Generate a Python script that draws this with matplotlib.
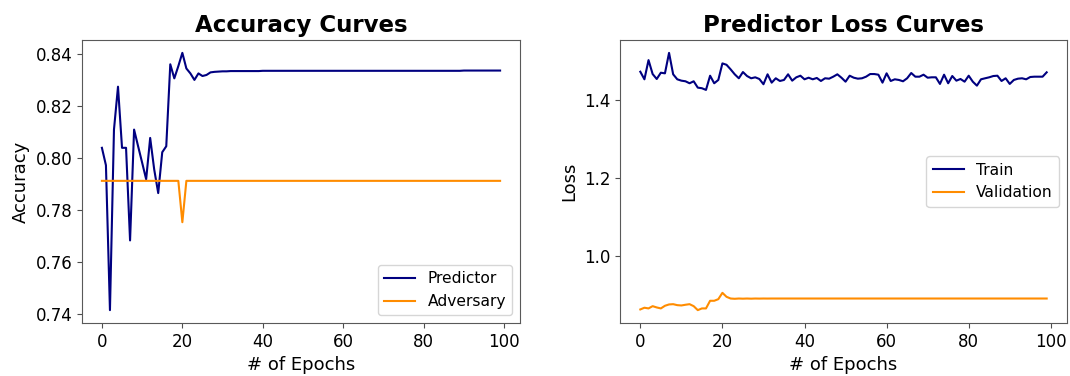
import matplotlib
matplotlib.use("Agg")
import matplotlib.pyplot as plt
import numpy as np

epochs = list(range(100))

predictor_acc = [0.8040, 0.7973, 0.7416, 0.8110, 0.8275, 0.8040, 0.8040, 0.7684, 0.8110, 0.8046,
                 0.7983, 0.7919, 0.8078, 0.7957, 0.7866, 0.8023, 0.8046, 0.8361, 0.8307, 0.8354,
                 0.8405, 0.8345, 0.8326, 0.8301, 0.8326, 0.8316, 0.8320, 0.8330, 0.8332, 0.8333] + \
                [0.8334, 0.8334, 0.8335, 0.8335, 0.8335, 0.8335, 0.8335, 0.8335, 0.8335, 0.8335,
                 0.8336, 0.8336, 0.8336, 0.8336, 0.8336, 0.8336, 0.8336, 0.8336, 0.8336, 0.8336,
                 0.8336, 0.8336, 0.8336, 0.8336, 0.8336, 0.8336, 0.8336, 0.8336, 0.8336, 0.8336,
                 0.8336, 0.8336, 0.8336, 0.8336, 0.8336, 0.8336, 0.8336, 0.8336, 0.8336, 0.8336,
                 0.8336, 0.8336, 0.8336, 0.8336, 0.8336, 0.8336, 0.8336, 0.8336, 0.8336, 0.8336,
                 0.8336, 0.8336, 0.8336, 0.8336, 0.8336, 0.8336, 0.8336, 0.8336, 0.8336, 0.8336,
                 0.8337, 0.8337, 0.8337, 0.8337, 0.8337, 0.8337, 0.8337, 0.8337, 0.8337, 0.8337]

adversary_acc = [0.7913] * 20 + [0.7754] + [0.7913] * 79

train_loss = [1.4721, 1.4527, 1.5019, 1.4662, 1.4535, 1.4696, 1.4680, 1.5205, 1.4655, 1.4527,
              1.4492, 1.4476, 1.4425, 1.4476, 1.4313, 1.4298, 1.4255, 1.4619, 1.4425, 1.4510,
              1.4935, 1.4899, 1.4782, 1.4655, 1.4553, 1.4713, 1.4611, 1.4553, 1.4578, 1.4535,
              1.4400, 1.4655, 1.4441, 1.4553, 1.4484, 1.4510, 1.4655, 1.4492, 1.4578, 1.4619,
              1.4527, 1.4568, 1.4527, 1.4561, 1.4484, 1.4553, 1.4543, 1.4594, 1.4655, 1.4568,
              1.4466, 1.4619, 1.4568, 1.4543, 1.4553, 1.4594, 1.4662, 1.4662, 1.4645, 1.4441,
              1.4680, 1.4484, 1.4527, 1.4510, 1.4476, 1.4553, 1.4688, 1.4594, 1.4594, 1.4645,
              1.4568, 1.4578, 1.4578, 1.4408, 1.4645, 1.4425, 1.4611, 1.4492, 1.4535, 1.4466,
              1.4619, 1.4466, 1.4364, 1.4527, 1.4553, 1.4578, 1.4611, 1.4619, 1.4484, 1.4553,
              1.4408, 1.4510, 1.4543, 1.4553, 1.4527, 1.4586, 1.4594, 1.4594, 1.4594, 1.4706]

val_loss = [0.8624, 0.8668, 0.8650, 0.8708, 0.8675, 0.8650, 0.8718, 0.8752, 0.8759, 0.8734,
            0.8726, 0.8744, 0.8759, 0.8708, 0.8606, 0.8650, 0.8650, 0.8846, 0.8846, 0.8887,
            0.9050, 0.8948, 0.8904, 0.8897, 0.8904, 0.8900, 0.8904, 0.8900, 0.8904, 0.8902,
            0.8904, 0.8903, 0.8904, 0.8904, 0.8904, 0.8904, 0.8904, 0.8904, 0.8904, 0.8904,
            0.8904, 0.8904, 0.8904, 0.8904, 0.8904, 0.8904, 0.8904, 0.8904, 0.8904, 0.8904,
            0.8904, 0.8904, 0.8904, 0.8904, 0.8904, 0.8904, 0.8904, 0.8904, 0.8904, 0.8904,
            0.8904, 0.8904, 0.8904, 0.8904, 0.8904, 0.8904, 0.8904, 0.8904, 0.8904, 0.8904,
            0.8904, 0.8904, 0.8904, 0.8904, 0.8904, 0.8904, 0.8904, 0.8904, 0.8904, 0.8904,
            0.8904, 0.8904, 0.8904, 0.8904, 0.8904, 0.8904, 0.8904, 0.8904, 0.8904, 0.8904,
            0.8904, 0.8904, 0.8904, 0.8904, 0.8904, 0.8904, 0.8904, 0.8904, 0.8904, 0.8904]

left_yticks = [0.74, 0.76, 0.78, 0.80, 0.82, 0.84]
right_yticks = [1.0, 1.2, 1.4]
xticks = [0, 20, 40, 60, 80, 100]

W, H = 1070, 376
fig = plt.figure(figsize=(W / 100, H / 100), dpi=100)
ax1 = fig.add_axes([82 / W, 53 / H, 438 / W, 283 / H])
ax2 = fig.add_axes([620 / W, 53 / H, 447 / W, 283 / H])

navy = "#000080"
orange = "#ff8c00"

ax1.plot(epochs, predictor_acc, color=navy, lw=1.5, label="Predictor")
ax1.plot(epochs, adversary_acc, color=orange, lw=1.5, label="Adversary")
ax1.set_title("Accuracy Curves", fontsize=16.5, fontweight="bold")
ax1.set_xlabel("# of Epochs", fontsize=13)
ax1.set_ylabel("Accuracy", fontsize=13)
ax1.set_yticks(left_yticks)
ax1.set_yticklabels([f"{v:.2f}" for v in left_yticks])
ax1.legend(loc="lower right", fontsize=11.2)

ax2.plot(epochs, train_loss, color=navy, lw=1.5, label="Train")
ax2.plot(epochs, val_loss, color=orange, lw=1.5, label="Validation")
ax2.set_title("Predictor Loss Curves", fontsize=16.5, fontweight="bold")
ax2.set_xlabel("# of Epochs", fontsize=13)
ax2.set_ylabel("Loss", fontsize=13)
ax2.set_yticks(right_yticks)
ax2.set_yticklabels([f"{v:.1f}" for v in right_yticks])
ax2.legend(loc="center right", fontsize=11.2)

for ax in (ax1, ax2):
    ax.set_xticks(xticks)
    ax.tick_params(labelsize=12, color="0.3")
    for s in ax.spines.values():
        s.set_color("0.35")

fig.savefig("out.png", dpi=100)
